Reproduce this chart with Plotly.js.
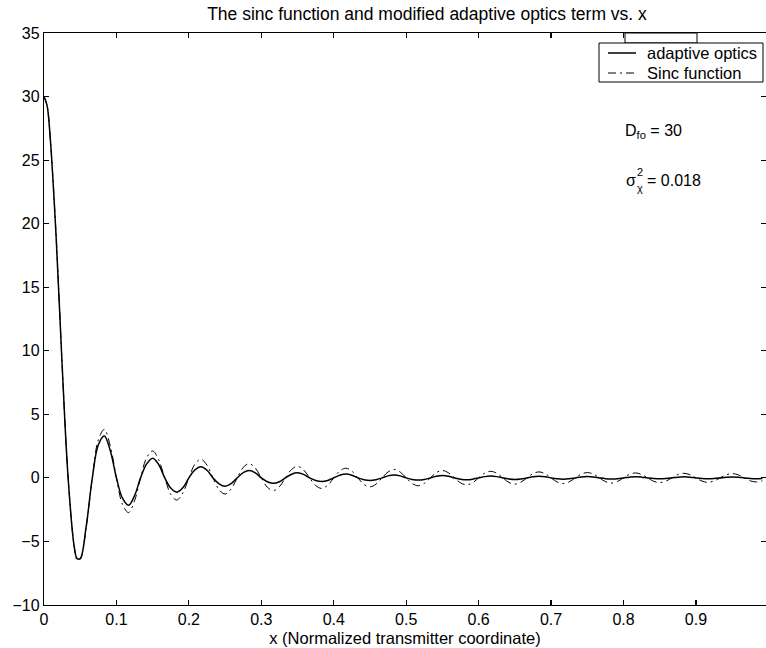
<!DOCTYPE html>
<html>
<head>
<meta charset="utf-8">
<script src="https://cdn.plot.ly/plotly-3.0.1.min.js"></script>
<style>html,body{margin:0;padding:0;background:#fff;}#plot{width:766px;height:648px;}</style>
</head>
<body>
<div id="plot"></div>
<script>
// x positions (Normalized transmitter coordinate)
const xValues = [0, 0.0042, 0.0083, 0.0167, 0.025, 0.0333, 0.0417, 0.0458, 0.05, 0.0583, 0.0667, 0.075, 0.0833, 0.0917, 0.1, 0.1083, 0.1167, 0.125, 0.1333, 0.1417, 0.15, 0.1583, 0.1667, 0.175, 0.1833, 0.1917, 0.2, 0.2083, 0.2167, 0.225, 0.2333, 0.2417, 0.25, 0.2583, 0.2667, 0.275, 0.2833, 0.2917, 0.3, 0.3083, 0.3167, 0.325, 0.3333, 0.3417, 0.35, 0.3583, 0.3667, 0.375, 0.3833, 0.3917, 0.4, 0.4083, 0.4167, 0.425, 0.4333, 0.4417, 0.45, 0.4583, 0.4667, 0.475, 0.4833, 0.4917, 0.5, 0.5083, 0.5167, 0.525, 0.5333, 0.5417, 0.55, 0.5583, 0.5667, 0.575, 0.5833, 0.5917, 0.6, 0.6083, 0.6167, 0.625, 0.6333, 0.6417, 0.65, 0.6583, 0.6667, 0.675, 0.6833, 0.6917, 0.7, 0.7083, 0.7167, 0.725, 0.7333, 0.7417, 0.75, 0.7583, 0.7667, 0.775, 0.7833, 0.7917, 0.8, 0.8083, 0.8167, 0.825, 0.8333, 0.8417, 0.85, 0.8583, 0.8667, 0.875, 0.8833, 0.8917, 0.9, 0.9083, 0.9167, 0.925, 0.9333, 0.9417, 0.95, 0.9583, 0.9667, 0.975, 0.9833, 0.9917];

// adaptive optics term (solid)
const adaptiveOptics = [
  30, 29.3, 27.0, 19.0, 8.9, 0, -5.4, -6.35, -6.35, -3.8,
  0, 2.6, 3.3, 2.1, 0, -1.6, -2.15, -1.4,
  0, 1.1, 1.55, 1.05, 0, -0.8, -1.12, -0.78,
  0, 0.63, 0.88, 0.6, 0, -0.47, -0.66, -0.45,
  0, 0.41, 0.58, 0.4, 0, -0.3, -0.43, -0.3,
  0, 0.29, 0.4, 0.28, 0, -0.2, -0.28, -0.2,
  0, 0.21, 0.3, 0.21, 0, -0.14, -0.2, -0.14,
  0, 0.16, 0.22, 0.16, 0, -0.12, -0.17, -0.12,
  0, 0.13, 0.18, 0.13, 0, -0.1, -0.14, -0.1,
  0, 0.1, 0.14, 0.1, 0, -0.08, -0.12, -0.08,
  0, 0.09, 0.12, 0.09, 0, -0.07, -0.1, -0.07,
  0, 0.07, 0.1, 0.07, 0, -0.06, -0.08, -0.06,
  0, 0.06, 0.09, 0.06, 0, -0.05, -0.07, -0.05,
  0, 0.06, 0.08, 0.06, 0, -0.05, -0.07, -0.05,
  0, 0.05, 0.07, 0.05, 0, -0.04, -0.06, -0.04
];

// Sinc function (dash-dot)
const sincFunction = [
  30, 29.3, 27.0, 19.1, 9.0, 0, -5.4, -6.45, -6.4, -3.86,
  0, 3.0, 3.82, 2.46, 0, -2.08, -2.73, -1.8,
  0, 1.59, 2.12, 1.42, 0, -1.29, -1.74, -1.17,
  0, 1.08, 1.47, 1.0, 0, -0.93, -1.27, -0.87,
  0, 0.82, 1.12, 0.77, 0, -0.73, -1.0, -0.69,
  0, 0.66, 0.91, 0.63, 0, -0.6, -0.83, -0.58,
  0, 0.55, 0.76, 0.53, 0, -0.51, -0.71, -0.49,
  0, 0.47, 0.66, 0.46, 0, -0.44, -0.62, -0.43,
  0, 0.42, 0.58, 0.4, 0, -0.39, -0.55, -0.38,
  0, 0.37, 0.52, 0.36, 0, -0.35, -0.49, -0.34,
  0, 0.33, 0.47, 0.33, 0, -0.32, -0.44, -0.31,
  0, 0.3, 0.42, 0.3, 0, -0.29, -0.41, -0.28,
  0, 0.28, 0.39, 0.27, 0, -0.27, -0.37, -0.26,
  0, 0.26, 0.36, 0.25, 0, -0.25, -0.35, -0.24,
  0, 0.24, 0.34, 0.24, 0, -0.23, -0.32, -0.23
];

const seriesNames = ["adaptive optics", "Sinc function"];
const xTickVals = [0, 0.1, 0.2, 0.3, 0.4, 0.5, 0.6, 0.7, 0.8, 0.9];
const xTickText = ["0", "0.1", "0.2", "0.3", "0.4", "0.5", "0.6", "0.7", "0.8", "0.9"];
const yTickVals = [-10, -5, 0, 5, 10, 15, 20, 25, 30, 35];

const FONT = "Liberation Sans, Arial, Helvetica, sans-serif";
const DASHDOT = "8px,4px,2px,4px";

// plot area in pixels: left 44, right 766, top 33, bottom 605
const px = v => (v - 44) / 722;
const py = v => (605 - v) / 572;

const traces = [
  {
    x: xValues, y: adaptiveOptics, name: seriesNames[0], type: "scatter", mode: "lines",
    line: {color: "#000", width: 1.5, shape: "spline", smoothing: 1}
  },
  {
    x: xValues, y: sincFunction, name: seriesNames[1], type: "scatter", mode: "lines",
    line: {color: "#000", width: 1, dash: DASHDOT, shape: "spline", smoothing: 1}
  }
];

const axisCommon = {
  showline: true, linecolor: "#000", linewidth: 1.2, mirror: "ticks",
  ticks: "inside", ticklen: 5, tickcolor: "#000", tickwidth: 1.2,
  showgrid: false, zeroline: false,
  tickfont: {family: FONT, size: 16, color: "#000"}
};

const txt = (x, y, text, size, anchor) => ({
  xref: "paper", yref: "paper", x: x, y: y, xanchor: anchor || "left", yanchor: "middle",
  text: text, showarrow: false, font: {family: FONT, size: size, color: "#000"}
});

const layout = {
  width: 766, height: 648,
  margin: {l: 44, r: 0, t: 33, b: 43},
  paper_bgcolor: "#fff", plot_bgcolor: "#fff",
  showlegend: false,
  title: {text: "The sinc function and modified adaptive optics term vs. x",
          font: {family: FONT, size: 17.5, color: "#000"}, x: 427 / 766, xanchor: "center", y: 0.988, yanchor: "top"},
  xaxis: Object.assign({}, axisCommon, {
    range: [0, 0.9967], tickvals: xTickVals, ticktext: xTickText,
    title: {text: "x (Normalized transmitter coordinate)", font: {family: FONT, size: 16.5, color: "#000"}, standoff: 5}
  }),
  yaxis: Object.assign({}, axisCommon, {
    range: [-10, 35], tickvals: yTickVals
  }),
  shapes: [
    // legend box and small tab above it
    {type: "rect", xref: "paper", yref: "paper", x0: px(625), x1: px(697), y0: py(43), y1: py(33),
     line: {color: "#000", width: 1}, fillcolor: "#fff", layer: "above"},
    {type: "rect", xref: "paper", yref: "paper", x0: px(599), x1: px(763), y0: py(82), y1: py(43),
     line: {color: "#000", width: 1}, fillcolor: "#fff", layer: "above"},
    // legend samples
    {type: "line", xref: "paper", yref: "paper", x0: px(608), x1: px(636), y0: py(53), y1: py(53),
     line: {color: "#000", width: 1.5}, layer: "above"},
    {type: "line", xref: "paper", yref: "paper", x0: px(608), x1: px(636), y0: py(73), y1: py(73),
     line: {color: "#000", width: 1, dash: DASHDOT}, layer: "above"}
  ],
  annotations: [
    txt(px(645), py(53), seriesNames[0], 16.5),
    txt(px(645), py(73), seriesNames[1], 16.5),
    txt(px(623), py(131), "D<sub>fo</sub> = 30", 16),
    txt(px(624), py(180), "σ", 16),
    txt(px(635), py(172), "2", 11),
    txt(px(635), py(188), "χ", 11),
    txt(px(645), py(180), "= 0.018", 16)
  ]
};

Plotly.newPlot("plot", traces, layout, {staticPlot: true, displayModeBar: false});
</script>
</body>
</html>
